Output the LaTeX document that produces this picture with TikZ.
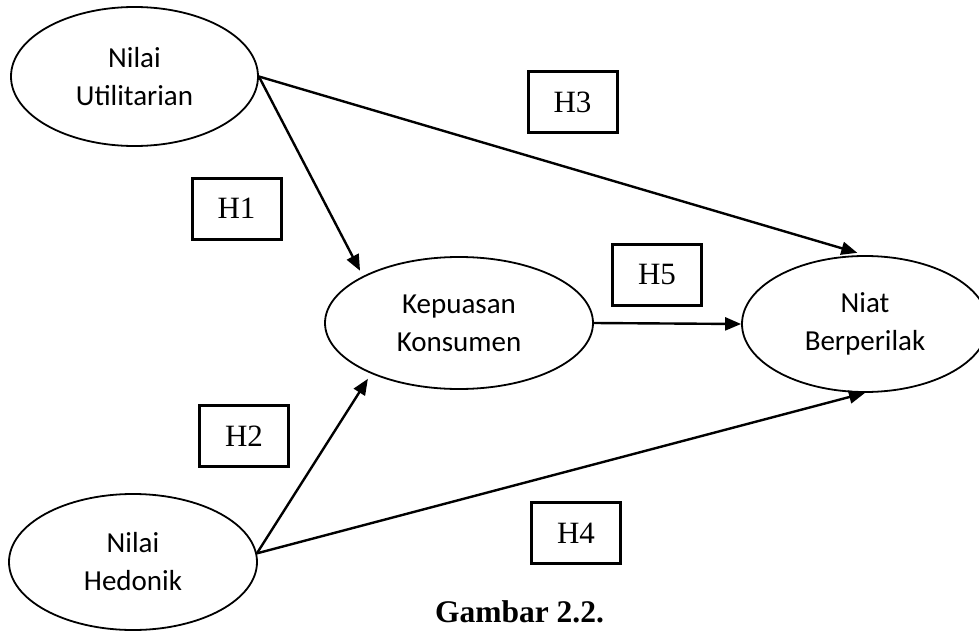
\documentclass[tikz,border=0pt]{standalone}
\usepackage{fontspec}
\setmainfont{Liberation Serif}
\newfontfamily\calibri{Carlito}
\usetikzlibrary{shapes.geometric,arrows.meta}
\tikzset{
  construct/.style={ellipse,draw,line width=0.9pt,inner sep=0pt,align=center,
    font=\calibri\fontsize{14.5}{19}\selectfont},
  hypbox/.style={rectangle,draw,line width=1.5pt,inner sep=0pt,
    minimum width=44.5pt,minimum height=30.5pt,font=\fontsize{15.5}{18}\selectfont},
  path/.style={line width=1.2pt,-{Triangle[length=8pt,width=6.5pt]}},
}
\begin{document}
\begin{tikzpicture}[x=0.5pt,y=-0.5pt]
\clip (0,0) rectangle (979,631);
\fill[white] (0,0) rectangle (979,631);
% constructs
\node[construct,minimum width=123.5pt,minimum height=69.5pt] (u) at (134.5,76.5) {Nilai\\Utilitarian};
\node[construct,minimum width=134pt,minimum height=66pt] (k) at (459,323) {Kepuasan\\Konsumen};
\node[construct,minimum width=123pt,minimum height=68pt] (n) at (865,324) {Niat\\Berperilak};
\node[construct,minimum width=124pt,minimum height=68pt] (h) at (133,562) {Nilai\\Hedonik};
% hypothesis boxes
\node[hypbox] (h3) at (572.5,102) {H3};
\node[hypbox] (h1) at (236.5,208.5) {H1};
\node[hypbox] (h5) at (657,274.5) {H5};
\node[hypbox] (h2) at (244,436) {H2};
\node[hypbox] (h4) at (576,533) {H4};
% paths
\draw[path,shorten >=4pt] (u.east) -- (n.north);
\draw[path,shorten >=3pt] (u.east) -- (k.154);
\draw[path] (k.east) -- (n.west);
\draw[path,shorten >=3pt] (h.4) -- (k.210);
\draw[path] (h.4) -- (n.south);
% caption
\node[anchor=base,font=\bfseries\fontsize{15.75}{18}\selectfont,inner sep=0pt] (cap) at (519.5,622) {Gambar 2.2.};
\end{tikzpicture}
\end{document}
